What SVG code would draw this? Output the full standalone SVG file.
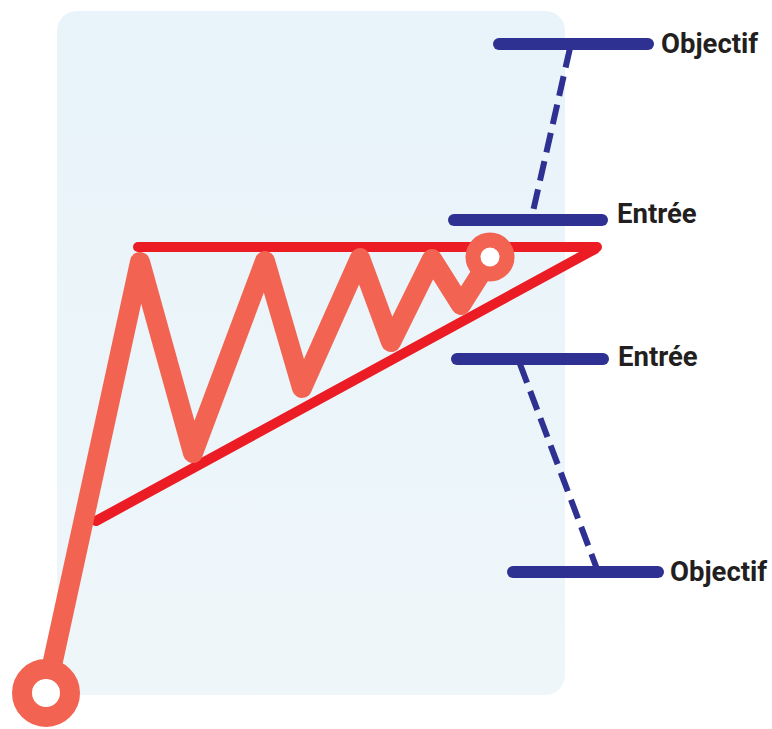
<svg xmlns="http://www.w3.org/2000/svg" width="772" height="729" viewBox="0 0 772 729">
  <defs>
    <linearGradient id="bg" x1="0" y1="0" x2="0" y2="1">
      <stop offset="0" stop-color="#e8f3fa"/>
      <stop offset="1" stop-color="#eef6f9"/>
    </linearGradient>
    <style>
      .red { stroke: #ec1c24; stroke-width: 10; stroke-linecap: round; fill: none; }
      .price { stroke: #f26451; stroke-width: 20; stroke-linecap: round; stroke-linejoin: round; fill: none; }
      .bar { stroke: #2e3192; stroke-width: 12; stroke-linecap: round; fill: none; }
      .dash { stroke: #2e3192; stroke-width: 6; stroke-dasharray: 20 9; fill: none; }
      .lbl { font-family: Roboto, "Liberation Sans", sans-serif; font-weight: 700; font-size: 27.5px; fill: #231f20; }
    </style>
  </defs>
  <rect x="57" y="11" width="508" height="684" rx="20" fill="url(#bg)"/>

  <g id="triangle">
    <line class="red" x1="138" y1="247" x2="597" y2="247"/>
    <line class="red" x1="96" y1="521" x2="595" y2="249"/>
  </g>

  <g id="price">
    <polyline class="price" points="46,693 140,262 193,453 265,261 302,388 360,258 391,342 432,259 461,305 480,275"/>
    <circle cx="46" cy="693" r="24" fill="#ffffff" stroke="#f26451" stroke-width="20"/>
    <circle cx="490" cy="257" r="17" fill="#ffffff" stroke="#f26451" stroke-width="15"/>
  </g>

  <g id="connectors">
    <line class="dash" x1="570" y1="48" x2="532" y2="216"/>
    <line class="dash" x1="520" y1="364" x2="597" y2="569"/>
  </g>

  <g id="objectif-top">
    <line class="bar" x1="499" y1="44" x2="648" y2="44"/>
    <text class="lbl" x="661" y="53">Objectif</text>
  </g>
  <g id="entree-top">
    <line class="bar" x1="454" y1="220" x2="602" y2="220"/>
    <text class="lbl" x="617" y="223">Entrée</text>
  </g>
  <g id="entree-bottom">
    <line class="bar" x1="457" y1="359" x2="603" y2="359"/>
    <text class="lbl" x="618" y="366">Entrée</text>
  </g>
  <g id="objectif-bottom">
    <line class="bar" x1="513" y1="572" x2="658" y2="572"/>
    <text class="lbl" x="670" y="581">Objectif</text>
  </g>
</svg>
